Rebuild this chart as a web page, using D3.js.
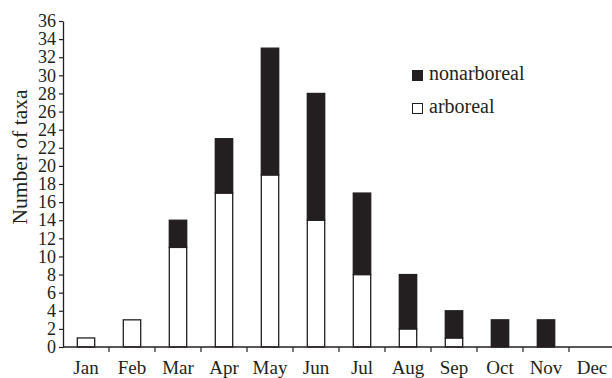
<!DOCTYPE html>
<html>
<head>
<meta charset="utf-8">
<script src="https://cdn.jsdelivr.net/npm/d3@7/dist/d3.min.js"></script>
<style>
html,body{margin:0;padding:0;background:#fff;}
svg{display:block;}
text{font-family:"Liberation Serif","DejaVu Serif",serif;fill:#231f20;}
</style>
</head>
<body>
<svg id="chart" width="612" height="378"></svg>
<script>
const months = ["Jan","Feb","Mar","Apr","May","Jun","Jul","Aug","Sep","Oct","Nov","Dec"];
const arboreal = [1,3,11,17,19,14,8,2,1,0,0,0];
const nonarboreal = [0,0,3,6,14,14,9,6,3,3,3,0];
const yTicks = d3.range(0,37,2);
const seriesNames = ["nonarboreal","arboreal"];

(function(){
const ink = "#231f20";
const svg = d3.select("#chart");
const mLeft = 63, mRight = 615, mTop = 21, mBottom = 347;

const x = d3.scaleBand().domain(months).range([mLeft,mRight]).paddingInner(0.6).paddingOuter(0.3);
const y = d3.scaleLinear().domain([0,36]).range([mBottom,mTop]);

// bars
const g = svg.append("g");
months.forEach((m,i)=>{
  const a = arboreal[i], n = nonarboreal[i];
  if (a > 0) {
    g.append("rect")
      .attr("x", x(m)+0.5).attr("width", x.bandwidth()-1)
      .attr("y", y(a)).attr("height", y(0)-y(a))
      .attr("fill","#fff").attr("stroke",ink).attr("stroke-width",1.3);
  }
  if (n > 0) {
    g.append("rect")
      .attr("x", x(m)+0.5).attr("width", x.bandwidth()-1)
      .attr("y", y(a+n)).attr("height", y(a)-y(a+n))
      .attr("fill",ink).attr("stroke",ink).attr("stroke-width",1.3);
  }
});

// y axis
const yAxis = svg.append("g").attr("transform",`translate(${mLeft},0)`)
  .call(d3.axisLeft(y).tickValues(yTicks).tickSize(4).tickPadding(3).tickSizeOuter(0));
yAxis.select(".domain").attr("stroke",ink).attr("stroke-width",1.3);
yAxis.selectAll(".tick line").attr("stroke",ink).attr("stroke-width",1.2);
yAxis.selectAll(".tick text").attr("font-size",18).attr("font-family","Liberation Serif").attr("fill",ink);

// x axis line
svg.append("line").attr("x1",mLeft).attr("x2",612).attr("y1",mBottom).attr("y2",mBottom)
  .attr("stroke",ink).attr("stroke-width",1.3);
// separator ticks between months
const seps = months.map(m => x(m) + x.bandwidth()/2 + x.step()/2);
svg.append("g").selectAll("line").data(seps).join("line")
  .attr("x1",d=>d).attr("x2",d=>d).attr("y1",mBottom).attr("y2",mBottom+5)
  .attr("stroke",ink).attr("stroke-width",1.2);
// month labels
svg.append("g").selectAll("text").data(months).join("text")
  .attr("x",m=>x(m)+x.bandwidth()/2).attr("y",374)
  .attr("text-anchor","middle").attr("font-size",19).text(m=>m);

// y label
svg.append("text").attr("transform","translate(27,157) rotate(-90)")
  .attr("text-anchor","middle").attr("font-size",21.5).text("Number of taxa");

// legend
const legend = svg.append("g");
const ly = [70,103];
seriesNames.forEach((s,i)=>{
  legend.append("rect").attr("x",412.5).attr("y",ly[i]+0.5).attr("width",10).attr("height",10)
    .attr("fill", s==="nonarboreal"?ink:"#fff").attr("stroke",ink).attr("stroke-width",1);
  legend.append("text").attr("x",429).attr("y",ly[i]+10).attr("font-size",20).text(s);
});
})();
</script>
</body>
</html>
